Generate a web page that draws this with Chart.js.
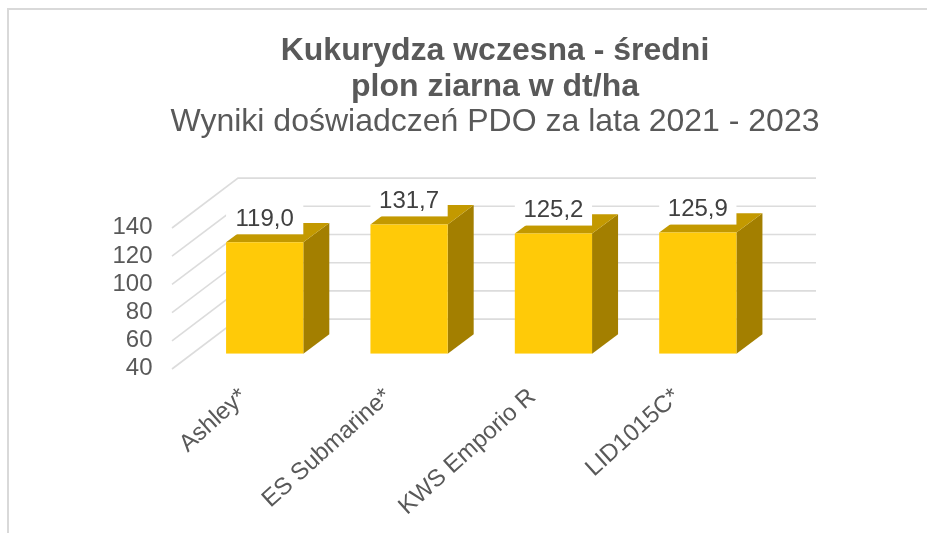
<!DOCTYPE html>
<html><head><meta charset="utf-8">
<style>html,body{margin:0;padding:0;background:#fff}#w{width:927px;height:533px;position:relative}</style>
<script src="https://cdn.jsdelivr.net/npm/chart.js@4"></script>
</head><body><div id="w"><canvas id="c" width="927" height="533"></canvas></div>
<script>
const categories = ['Ashley*', 'ES Submarine*', 'KWS Emporio R', 'LID1015C*'];
const plon = [119.0, 131.7, 125.2, 125.9];
const tickValues = [40, 60, 80, 100, 120, 140];
const titleLines = ['Kukurydza wczesna - średni', 'plon ziarna w dt/ha'];
const subtitleLine = 'Wyniki doświadczeń PDO za lata 2021 - 2023';

const FONT = '"Liberation Sans", Arial, sans-serif';
const DX = 26, DY = 19.4;

const frame = {
  id: 'frame',
  beforeDraw(ch) {
    const c = ch.ctx;
    c.save();
    c.fillStyle = '#fff';
    c.fillRect(0, 0, ch.width, ch.height);
    c.strokeStyle = '#d9d9d9';
    c.lineWidth = 2;
    c.beginPath();
    c.moveTo(8, 533); c.lineTo(8, 9); c.lineTo(927, 9);
    c.stroke();
    c.restore();
  }
};

const walls = {
  id: 'walls',
  beforeDatasetsDraw(ch) {
    const c = ch.ctx, y = ch.scales.y, a = ch.chartArea;
    c.save();
    c.strokeStyle = '#dcdcdc';
    c.lineWidth = 1.6;
    tickValues.forEach(v => {
      const p = y.getPixelForValue(v);
      c.beginPath();
      c.moveTo(a.left - 20.5, p + 15.3);
      c.lineTo(a.left + 45.5, p - 34.6);
      c.lineTo(a.right + 46, p - 34.6);
      c.stroke();
    });
    ch.getDatasetMeta(0).data.forEach(b => {
      const l = b.x - b.width / 2, r = b.x + b.width / 2, t = b.y, bt = b.base;
      c.fillStyle = '#a37f00';
      c.beginPath();
      c.moveTo(r, t); c.lineTo(r + DX, t - DY); c.lineTo(r + DX, bt - DY); c.lineTo(r, bt);
      c.closePath(); c.fill();
      c.fillStyle = '#c39900';
      c.beginPath();
      c.moveTo(l, t); c.lineTo(l + DX, t - DY); c.lineTo(r + DX, t - DY); c.lineTo(r, t);
      c.closePath(); c.fill();
    });
    c.restore();
  }
};

const valueLabels = {
  id: 'valueLabels',
  afterDatasetsDraw(ch) {
    const c = ch.ctx;
    c.save();
    c.font = '24px ' + FONT;
    c.textAlign = 'center';
    c.textBaseline = 'middle';
    ch.getDatasetMeta(0).data.forEach((b, i) => {
      c.fillStyle = '#fff';
      c.fillRect(b.x - b.width / 2, b.y - 38, b.width, 30);
      c.fillStyle = '#404040';
      c.fillText(plon[i].toFixed(1).replace('.', ','), b.x, b.y - 23);
    });
    c.restore();
  }
};

new Chart(document.getElementById('c'), {
  type: 'bar',
  data: {
    labels: categories,
    datasets: [{
      data: plon,
      base: tickValues[0],
      backgroundColor: '#ffca08',
      barPercentage: 0.535,
      categoryPercentage: 1
    }]
  },
  plugins: [frame, walls, valueLabels],
  options: {
    responsive: false,
    animation: false,
    layout: { padding: { left: 63, right: 0, top: 0, bottom: 0 } },
    plugins: {
      legend: { display: false },
      tooltip: { enabled: false },
      title: {
        display: true,
        text: titleLines,
        color: '#595959',
        font: { family: FONT, size: 32, weight: 'bold', lineHeight: 1.125 },
        padding: { top: 33, bottom: 0 }
      },
      subtitle: {
        display: true,
        text: subtitleLine,
        color: '#595959',
        font: { family: FONT, size: 32, weight: 'normal', lineHeight: 1.1 },
        padding: { top: 0, bottom: 72.5 }
      }
    },
    scales: {
      x: {
        grid: { display: false, drawTicks: false },
        border: { display: false },
        afterFit(s) { s.height = 179.3; },
        ticks: {
          color: '#595959',
          font: { family: FONT, size: 24 },
          maxRotation: 42, minRotation: 42,
          autoSkip: false,
          padding: 29,
          labelOffset: -21
        }
      },
      y: {
        min: tickValues[0],
        max: tickValues[tickValues.length - 1],
        grid: { display: false, drawTicks: false },
        border: { display: false },
        afterFit(s) { s.width = 129.5; },
        ticks: {
          stepSize: 20,
          autoSkip: false,
          color: '#595959',
          font: { family: FONT, size: 24 },
          padding: 40,
          labelOffset: 15
        }
      },
      yRight: {
        position: 'right',
        grid: { display: false, drawTicks: false },
        border: { display: false },
        ticks: { display: false },
        afterFit(s) { s.width = 157; }
      }
    }
  }
});
</script></body></html>
